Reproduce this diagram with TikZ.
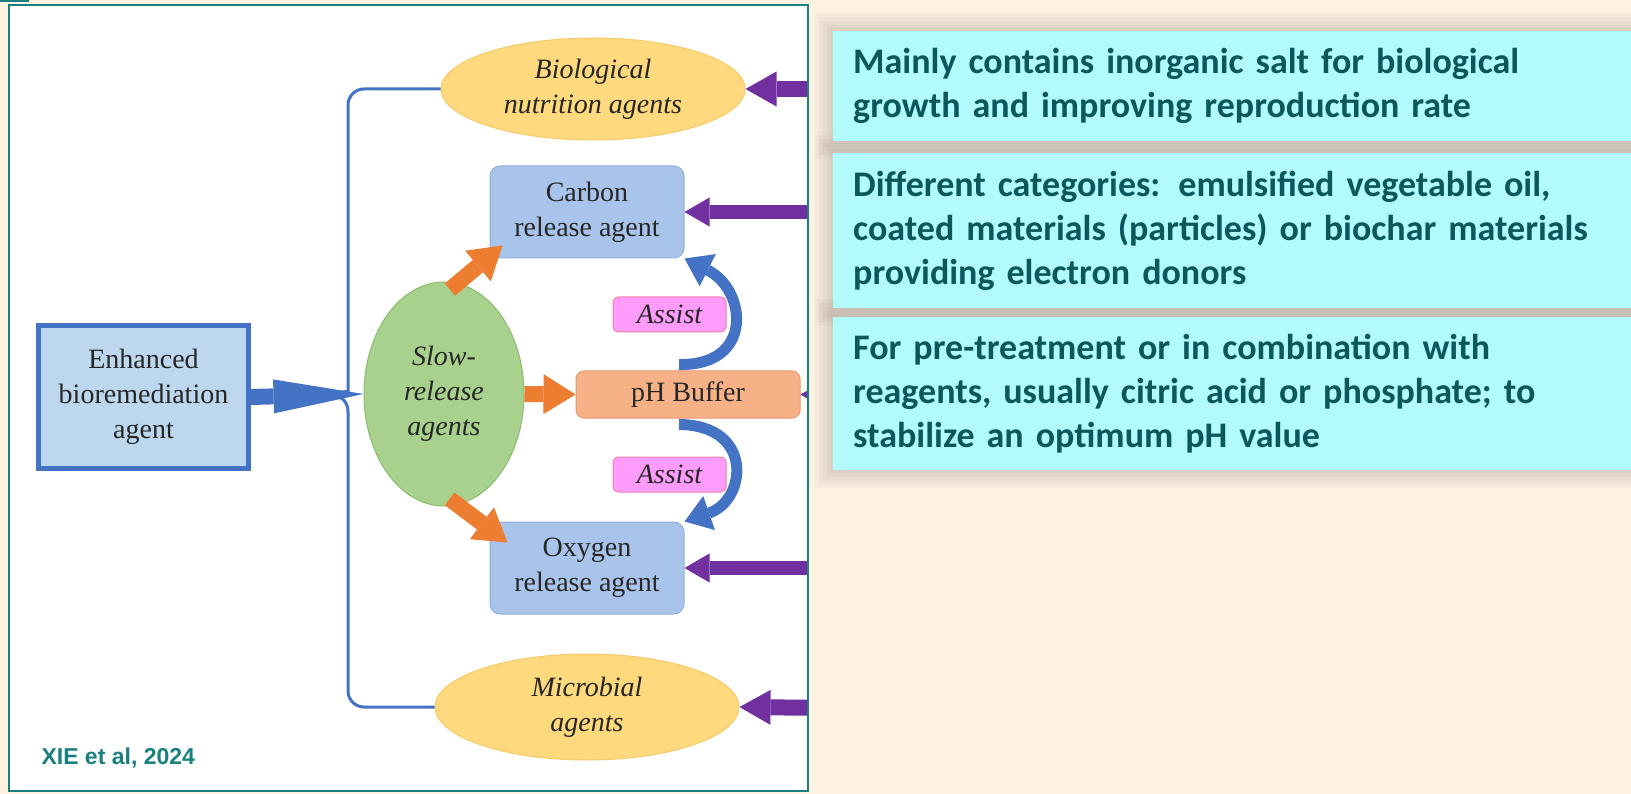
\documentclass[tikz,border=0pt]{standalone}
\usepackage{fontspec}
\setmainfont{Liberation Serif}
\newfontfamily\calibri{Carlito}
\newfontfamily\arialb{Liberation Sans}
\usetikzlibrary{arrows.meta,calc,shapes.geometric}
\definecolor{cream}{RGB}{253,241,226}
\definecolor{tealline}{RGB}{24,128,128}
\definecolor{cyanbox}{RGB}{179,250,252}
\definecolor{darkteal}{RGB}{10,88,92}
\definecolor{agentblue}{RGB}{169,196,235}
\definecolor{agentedge}{RGB}{143,176,222}
\definecolor{phfill}{RGB}{246,177,135}
\definecolor{phedge}{RGB}{236,150,112}
\definecolor{yellowfill}{RGB}{255,217,125}
\definecolor{yellowedge}{RGB}{247,202,105}
\definecolor{greenfill}{RGB}{169,209,142}
\definecolor{greenedge}{RGB}{140,188,112}
\definecolor{assistpink}{RGB}{255,155,250}
\definecolor{assistedge}{RGB}{240,130,170}
\definecolor{enhfill}{RGB}{189,215,238}
\definecolor{officeblue}{RGB}{68,114,196}
\definecolor{officeorange}{RGB}{237,125,49}
\definecolor{officepurple}{RGB}{112,48,160}
\definecolor{shadowgrey}{RGB}{110,104,98}
\tikzset{
  serif/.style={font=\fontsize{28}{35}\selectfont, text=black!85},
  serifit/.style={font=\fontsize{28}{35}\selectfont\itshape, text=black!85},
  agentbox/.style={serif, draw=agentedge, fill=agentblue, line width=1pt, rounded corners=10pt,
    minimum width=194pt, minimum height=92pt, align=center, inner sep=0pt},
  phbox/.style={serif, draw=phedge, fill=phfill, line width=1pt, rounded corners=8pt,
    minimum width=224pt, minimum height=47pt, inner sep=0pt},
  bluebox/.style={serif, draw=officeblue, fill=enhfill, line width=5pt,
    minimum width=210pt, minimum height=143pt, align=center},
  yellowell/.style={serifit, ellipse, draw=yellowedge, fill=yellowfill, line width=1pt,
    minimum width=304pt, minimum height=102pt, inner sep=0pt, align=center},
  greenell/.style={serifit, ellipse, draw=greenedge, fill=greenfill, line width=1pt,
    minimum width=160pt, minimum height=224pt, inner sep=0pt, align=center},
  assistbox/.style={serifit, draw=assistedge, fill=assistpink, line width=1pt, rounded corners=5pt,
    minimum width=113pt, minimum height=35pt, inner sep=0pt},
  infobox/.style={anchor=west, fill=cyanbox, text=darkteal, align=left,
    font=\calibri\bfseries\fontsize{36}{44}\selectfont, text width=790pt, inner xsep=20pt, inner ysep=0pt},
  citetext/.style={anchor=west, text=tealline, font=\arialb\bfseries\fontsize{23}{28}\selectfont},
  bracket/.style={officeblue, line width=3pt},
  bigblue/.style={officeblue, line width=16pt, -{Triangle[length=90pt,width=34pt,line width=0pt]}},
  orangearr/.style={officeorange, line width=16pt, -{Triangle[length=32pt,width=40pt,line width=0pt]}},
  assistarr/.style={officeblue, line width=11pt, -{Triangle[length=26pt,width=36pt,line width=0pt]}},
  purplebig/.style={officepurple, line width=16pt, -{Triangle[length=31pt,width=35pt,line width=0pt]}},
  purplesmall/.style={officepurple, line width=14pt, -{Triangle[length=25pt,width=29pt,line width=0pt]}}
}
\begin{document}
\begin{tikzpicture}[x=1pt,y=-1pt]
\fill[cream] (0,0) rectangle (1631,794);
\useasboundingbox (0,0) rectangle (1631,794);
\fill[tealline] (0,0) rectangle (29,2);
\foreach \ya/\yb in {31/141,153/308,317/470}
  \foreach \s in {18,14,10,6,3}
    \fill[shadowgrey,opacity=0.05] (833-\s,\ya-\s) rectangle (1640,\yb+\s);
\node[infobox,minimum height=110pt] (salt) at (833,86)
  {Mainly contains inorganic salt for biological\\growth and improving reproduction rate};
\node[infobox,minimum height=155pt] (carbtxt) at (833,230.5)
  {Different categories: emulsified vegetable oil,\\coated materials (particles) or biochar materials\\providing electron donors};
\node[infobox,minimum height=153pt] (phtxt) at (833,393.5)
  {For pre-treatment or in combination with\\reagents, usually citric acid or phosphate; to\\stabilize an optimum pH value};
\fill[white] (9,5) rectangle (808,791);
\begin{scope}
\clip (9,5) rectangle (808,791);
\node[bluebox] (enh) at (143.5,397) {Enhanced\\bioremediation\\agent};
\node[yellowell] (bio) at (593,89) {Biological\\nutrition agents};
\node[yellowell,minimum height=106pt] (micro) at (587,707) {Microbial\\agents};
\node[greenell] (slow) at (444,394) {Slow-\\release\\agents};
\node[agentbox] (carbon) at (587,212) {Carbon\\release agent};
\node[agentbox] (oxy) at (587,568) {Oxygen\\release agent};
\node[phbox] (ph) at (688,394.5) {pH Buffer};
\node[assistbox] (assist1) at (669.5,314.5) {Assist};
\node[assistbox] (assist2) at (669.5,474.5) {Assist};
\node[citetext] (cite) at (38,758) {XIE et al, 2024};
\coordinate (srcbio) at (830,89);
\coordinate (srccarb) at (830,212);
\coordinate (srcph) at (830,394.5);
\coordinate (srcoxy) at (830,568);
\coordinate (srcmic) at (830,708);
\draw[bracket] (bio.west) [rounded corners=16pt] -| (348,378) [sharp corners]
  .. controls (348,388) and (342,394) .. (332,395)
  .. controls (342,396) and (348,402) .. (348,412) [rounded corners=16pt] |- (micro.west);
\draw[bigblue] (enh.east) -- (slow.west);
\draw[orangearr,shorten <=-10pt] (slow.83) -- ($(carbon.south west)+(13,-13)$);
\draw[orangearr] (slow.east) -- (ph.west);
\draw[orangearr,shorten <=-10pt] (slow.-83) -- ($(oxy.north west)+(18,21)$);
\draw[assistarr] ($(ph.north)+(-9,-6)$) .. controls (754,366) and (747,290) .. (carbon.south east);
\draw[assistarr] ($(ph.south)+(-9,6)$) .. controls (754,425) and (747,500) .. (oxy.north east);
\draw[purplebig] (srcbio) -- (bio.east);
\draw[purplesmall] (srccarb) -- (carbon.east);
\draw[purplesmall] (srcph) -- (ph.east);
\draw[purplesmall] (srcoxy) -- (oxy.east);
\draw[purplebig] (srcmic) -- (micro.east);
\end{scope}
\draw[tealline,line width=2.5pt] (9,5) rectangle (808,791);
\end{tikzpicture}
\end{document}
